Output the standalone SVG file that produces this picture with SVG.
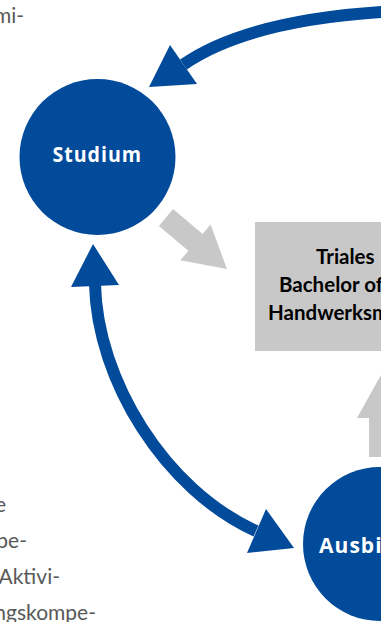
<svg xmlns="http://www.w3.org/2000/svg" width="381" height="622" viewBox="0 0 381 622">
<style>
.blue{fill:#024a9a}
.gray{fill:#c8c8c8}
.shaft{fill:none;stroke:#024a9a;stroke-width:12}
.lbl{font-family:"Open Sans",sans-serif;font-weight:bold;fill:#fff;font-size:20.5px;letter-spacing:1px}
.box{font-family:"Lato","Open Sans",sans-serif;font-weight:bold;fill:#000;font-size:20.5px}
.body{font-family:"Lato","Open Sans",sans-serif;fill:#595959;font-size:21px}
</style>
<rect width="381" height="622" fill="#fff"/>
<g id="body-text" class="body">
<text x="24" y="23" text-anchor="end">mi-</text>
<text x="6" y="512" text-anchor="end">e</text>
<text x="27" y="548" text-anchor="end">pe-</text>
<text x="60" y="584" text-anchor="end">Aktivi-</text>
<text x="96" y="620" text-anchor="end">ngskompe-</text>
</g>
<g id="connectors">
<path class="shaft" d="M400,11 Q251,18 183.5,64.5"/>
<polygon class="blue" points="149,87 170,45 197,84"/>
<path class="shaft" d="M95,284 C97,380 165,490 256,531"/>
<polygon class="blue" points="93,244 71,287 119,285"/>
<polygon class="blue" points="294,548 266,509 247,553"/>
<polygon class="gray" transform="translate(166,217.5) rotate(40.2)" points="0,-11 38.6,-11 38.6,-23.4 79.8,0 38.6,23.4 38.6,11 0,11"/>
<polygon class="gray" points="357,418 369,418 369,457 411,457 411,418 423,418 390,359"/>
</g>
<g id="studium">
<circle class="blue" cx="97.5" cy="157" r="78"/>
<text class="lbl" x="52.5" y="161.5" textLength="89.5" lengthAdjust="spacingAndGlyphs">Studium</text>
</g>
<g id="ausbildung">
<circle class="blue" cx="380" cy="544" r="77"/>
<text class="lbl" x="319" y="552.5" textLength="128" lengthAdjust="spacingAndGlyphs">Ausbildung</text>
</g>
<g id="trial-box">
<rect class="gray" x="255" y="222" width="140" height="129"/>
<text class="box" x="316" y="264">Triales</text>
<text class="box" x="279" y="292">Bachelor of</text>
<text class="box" x="268" y="320">Handwerksm</text>
</g>
</svg>
